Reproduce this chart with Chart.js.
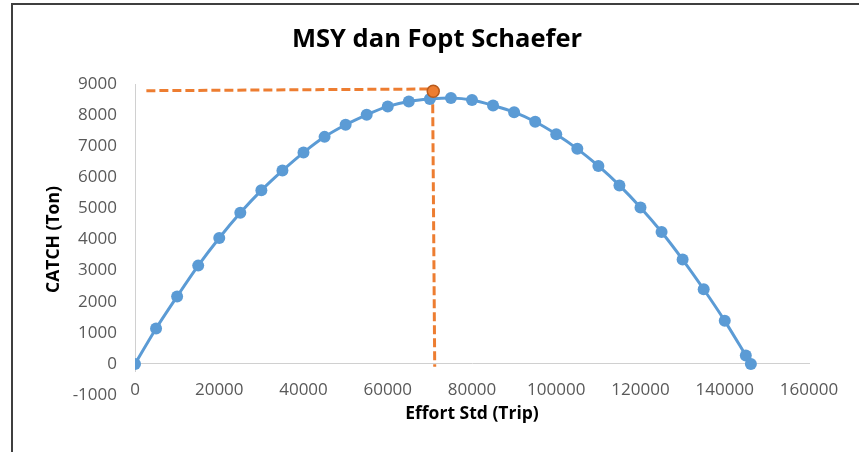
<!DOCTYPE html>
<html>
<head>
<meta charset="utf-8">
<script src="https://cdn.jsdelivr.net/npm/chart.js@4"></script>
<style>
  html, body { margin: 0; padding: 0; background: #fff; }
  canvas { display: block; }
</style>
</head>
<body>
<canvas id="chart" width="859" height="452"></canvas>
<script>
// effort (trip) and catch (ton) of the Schaefer curve
const effort = [0, 5000, 10000, 15000, 20000, 25000, 30000, 35000, 40000, 45000,
  50000, 55000, 60000, 65000, 70000, 75000, 80000, 85000, 90000, 95000,
  100000, 105000, 110000, 115000, 120000, 125000, 130000, 135000, 140000, 145000, 146200];
const catchTon = [0, 1140, 2170, 3160, 4050, 4860, 5580, 6215, 6795, 7300,
  7690, 8010, 8280, 8440, 8515, 8550, 8485, 8310, 8095, 7785,
  7385, 6915, 6365, 5740, 5030, 4240, 3355, 2400, 1385, 270, 0];

// MSY point and the guide lines to it
const msyPoint = [{ x: 70800, y: 8765 }];
const msyGuide = [{ x: 2700, y: 8785 }, { x: 70600, y: 8840 }];
const foptGuide = [{ x: 70650, y: 8765 }, { x: 71150, y: -90 }];

const xTicks = [0, 20000, 40000, 60000, 80000, 100000, 120000, 140000, 160000];
const yTicks = [-1000, 0, 1000, 2000, 3000, 4000, 5000, 6000, 7000, 8000, 9000];

const blue = "#5b9bd5";
const orange = "#ed7d31";
const tickGrey = "#595959";
const fontFamily = "'Open Sans', sans-serif";

// frame, titles and the vertical axis line
const framePlugin = {
  id: "frame",
  beforeDraw(chart) {
    const { ctx, chartArea } = chart;
    ctx.save();
    ctx.strokeStyle = "#3f3f3f";
    ctx.lineWidth = 2;
    ctx.strokeRect(12, 4, 900, 500);
    ctx.fillStyle = "#000";
    ctx.textAlign = "center";
    ctx.textBaseline = "middle";
    ctx.font = `bold 25.5px ${fontFamily}`;
    ctx.fillText("MSY dan Fopt Schaefer", 437, 40);
    ctx.font = `bold 17.5px ${fontFamily}`;
    ctx.fillText("Effort Std (Trip)", (chartArea.left + chartArea.right) / 2, 414);
    ctx.restore();
  },
  beforeDatasetsDraw(chart) {
    const { ctx, scales: { x, y } } = chart;
    const px = Math.round(x.getPixelForValue(0)) + 0.5;
    ctx.save();
    ctx.strokeStyle = "#d0d0d0";
    ctx.lineWidth = 1;
    ctx.beginPath();
    ctx.moveTo(px, y.getPixelForValue(9000));
    ctx.lineTo(px, y.getPixelForValue(-260));
    ctx.stroke();
    ctx.restore();
  }
};

new Chart(document.getElementById("chart"), {
  type: "scatter",
  data: {
    datasets: [
      {
        data: msyGuide,
        showLine: true,
        borderColor: orange,
        borderWidth: 3,
        borderDash: [9, 4],
        pointRadius: 0,
        order: 2
      },
      {
        data: foptGuide,
        showLine: true,
        borderColor: orange,
        borderWidth: 3,
        borderDash: [9, 4],
        pointRadius: 0,
        order: 2
      },
      {
        data: effort.map((e, i) => ({ x: e, y: catchTon[i] })),
        showLine: true,
        borderColor: blue,
        backgroundColor: blue,
        borderWidth: 3,
        tension: 0.3,
        pointRadius: 6,
        pointBorderWidth: 0,
        order: 1
      },
      {
        data: msyPoint,
        backgroundColor: orange,
        borderColor: "#b85a1c",
        pointRadius: 6,
        pointBorderWidth: 1.5,
        order: 0
      }
    ]
  },
  options: {
    responsive: false,
    animation: false,
    layout: { padding: { left: 16, right: 50, top: 84, bottom: 57 } },
    plugins: {
      legend: { display: false },
      tooltip: { enabled: false },
      title: { display: false }
    },
    scales: {
      x: {
        type: "linear",
        position: { y: 0 },
        min: 0,
        max: 160000,
        afterBuildTicks(scale) { scale.ticks = xTicks.map(v => ({ value: v })); },
        grid: { display: false, drawTicks: false },
        border: { display: true, color: "#d0d0d0", width: 1 },
        ticks: {
          color: tickGrey,
          padding: 16,
          font: { family: fontFamily, size: 17 },
          callback: v => String(v)
        },
        title: { display: false }
      },
      y: {
        type: "linear",
        position: "left",
        min: -1000,
        max: 9000,
        afterBuildTicks(scale) { scale.ticks = yTicks.map(v => ({ value: v })); },
        afterFit(scale) { scale.width = 119; },
        grid: { display: false, drawTicks: false },
        border: { display: false },
        ticks: {
          color: tickGrey,
          padding: 18,
          font: { family: fontFamily, size: 17 },
          callback: v => String(v)
        },
        title: {
          display: true,
          text: "CATCH (Ton)",
          color: "#000",
          font: { family: fontFamily, size: 17.5, weight: "bold" },
          padding: { top: 28, bottom: 0 }
        }
      }
    }
  },
  plugins: [framePlugin]
});
</script>
</body>
</html>
